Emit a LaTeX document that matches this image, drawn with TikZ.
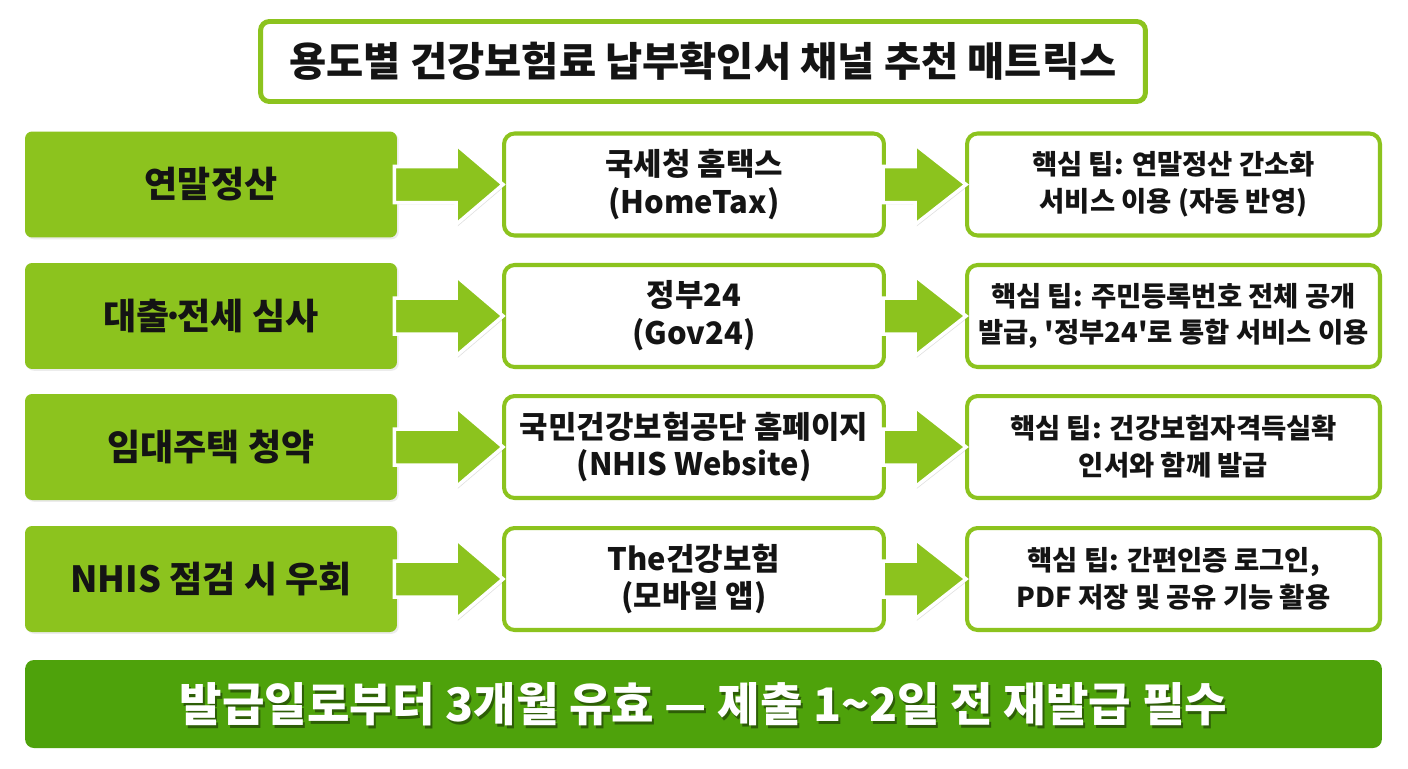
\documentclass[tikz,border=0pt]{standalone}
\usepackage{fontspec}
\setmainfont{Noto Sans CJK KR}
\usepackage{tikz}
\usetikzlibrary{positioning,calc,shadows}
\definecolor{leaf}{HTML}{8CC31E}
\definecolor{forest}{HTML}{4EA20B}
\definecolor{ink}{HTML}{141414}
\newcommand\bigarrow[3]{%
  \fill[leaf, draw=white, line width=2pt, line join=miter,
        drop shadow={opacity=0.25, shadow xshift=1pt, shadow yshift=-1pt}]
    ($(#1.east)+(-3,18)$) -- ($(#2.west)+(-#3,18)$) -- ($(#2.west)+(-#3,40)$)
    -- ($(#2.west)+(1,0)$) -- ($(#2.west)+(-#3,-40)$) -- ($(#2.west)+(-#3,-18)$)
    -- ($(#1.east)+(-3,-18)$) -- cycle;}

\begin{document}
\begin{tikzpicture}[x=0.02cm, y=-0.02cm, every node/.style={align=center, text=ink, inner sep=0pt},
  titlebox/.style={draw=leaf, fill=white, line width=2.8pt, rounded corners=5pt, minimum width=17.7cm, minimum height=1.6cm, font=\bfseries\fontsize{23}{28}\selectfont},
  usebox/.style={fill=leaf, rounded corners=4pt, minimum width=7.44cm, minimum height=2.12cm, font=\bfseries\fontsize{20.5}{24}\selectfont, drop shadow={opacity=0.15, shadow xshift=1pt, shadow yshift=-1pt}},
  chanbox/.style={draw=leaf, fill=white, line width=2.3pt, rounded corners=6pt, minimum width=7.6cm, minimum height=2.04cm, font=\bfseries\fontsize{17.6}{21.6}\selectfont, drop shadow={opacity=0.15, shadow xshift=1pt, shadow yshift=-1pt}},
  tipbox/.style={draw=leaf, fill=white, line width=2.3pt, rounded corners=6pt, minimum width=8.26cm, minimum height=2.04cm, font=\bfseries\fontsize{15.6}{21}\selectfont, drop shadow={opacity=0.15, shadow xshift=1pt, shadow yshift=-1pt}},
  notebar/.style={fill=forest, rounded corners=5pt, minimum width=27.14cm, minimum height=1.76cm}]
  \fill[white] (0,0) rectangle (1408,768);
  \useasboundingbox (0,0) rectangle (1408,768);

  \node[titlebox] (title) at (703,61.5) {용도별 건강보험료 납부확인서 채널 추천 매트릭스};

  \node[usebox] (u1) at (211,184.5) {연말정산};
  \node[usebox] (u2) at (211,316) {대출{\kern-0.2em}·{\kern-0.2em}전세 심사};
  \node[usebox] (u3) at (211,447) {임대주택 청약};
  \node[usebox] (u4) at (211,579) {NHIS 점검 시 우회};

  \node[chanbox] (c1) at (694,184.5) {국세청 홈택스\\(HomeTax)};
  \node[chanbox] (c2) at (694,316) {정부24\\(Gov24)};
  \node[chanbox] (c3) at (694,447) {국민건강보험공단 홈페이지\\(NHIS Website)};
  \node[chanbox] (c4) at (694,579) {The건강보험\\(모바일 앱)};

  \node[tipbox] (t1) at (1173.5,184.5) {핵심 팁: 연말정산 간소화\\서비스 이용 (자동 반영)};
  \node[tipbox] (t2) at (1173.5,316) {핵심 팁: 주민등록번호 전체 공개\\발급, \textquotesingle 정부24\textquotesingle 로 통합 서비스 이용};
  \node[tipbox] (t3) at (1173.5,447) {핵심 팁: 건강보험자격득실확\\인서와 함께 발급};
  \node[tipbox] (t4) at (1173.5,579) {핵심 팁: 간편인증 로그인,\\PDF 저장 및 공유 기능 활용};

  \foreach \i in {1,...,4} {
    \bigarrow{u\i}{c\i}{46}
    \bigarrow{c\i}{t\i}{50}
  }

  \node[notebar] (note) at (703.5,704) {};
  \node[text=black!70!forest, opacity=0.6, font=\bfseries\fontsize{26.3}{30}\selectfont] at ($(note)+(2,3)$) {발급일로부터 3개월 유효 — 제출 1\textasciitilde2일 전 재발급 필수};
  \node[text=white, font=\bfseries\fontsize{26.3}{30}\selectfont] (notetext) at (note) {발급일로부터 3개월 유효 — 제출 1\textasciitilde2일 전 재발급 필수};
\end{tikzpicture}
\end{document}
